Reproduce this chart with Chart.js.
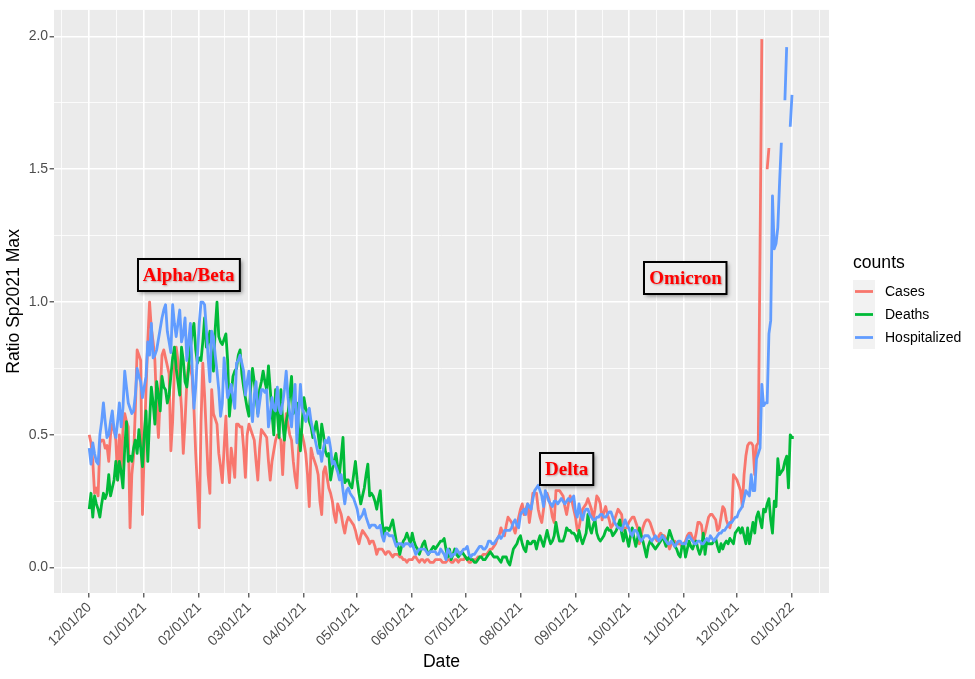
<!DOCTYPE html>
<html>
<head>
<meta charset="utf-8">
<script src="https://cdn.jsdelivr.net/npm/chart.js@4.4.1/dist/chart.umd.min.js"></script>
<style>
  html, body { margin: 0; padding: 0; background: #ffffff; }
  #wrap { width: 975px; height: 679px; }
</style>
</head>
<body>
<div id="wrap"><canvas id="chart" width="975" height="679"></canvas></div>
<script>
// Daily values, day 0 = 12/01/20 (one entry per day, null = no data)
const cases = [
  0.50, 0.47, 0.40, 0.28, 0.30, 0.27, 0.47, 0.48, 0.48, 0.45, // d0
  0.46, 0.40, 0.50, 0.54, 0.52, 0.48, 0.33, 0.50, 0.37, 0.52, // d10
  0.58, 0.55, 0.53, 0.15, 0.35, 0.42, 0.60, 0.82, 0.80, 0.78, // d20
  0.20, 0.45, 0.67, 0.85, 1.00, 0.90, 0.85, 0.78, 0.60, 0.49, // d30
  0.65, 0.80, 0.82, 0.79, 0.76, 0.73, 0.44, 0.55, 0.75, 0.83, // d40
  0.78, 0.70, 0.60, 0.43, 0.55, 0.70, 0.77, 0.75, 0.72, 0.60, // d50
  0.43, 0.30, 0.15, 0.55, 0.77, 0.65, 0.50, 0.35, 0.28, 0.67, // d60
  0.58, 0.56, 0.54, 0.43, 0.38, 0.32, 0.45, 0.57, 0.40, 0.32, // d70
  0.45, 0.40, 0.34, 0.54, 0.54, 0.53, 0.53, 0.45, 0.34, 0.50, // d80
  0.54, 0.52, 0.50, 0.48, 0.40, 0.33, 0.45, 0.52, 0.51, 0.50, // d90
  0.49, 0.40, 0.33, 0.40, 0.44, 0.48, 0.50, 0.49, 0.48, 0.35, // d100
  0.50, 0.58, 0.54, 0.50, 0.48, 0.40, 0.34, 0.30, 0.45, 0.52, // d110
  0.50, 0.47, 0.43, 0.35, 0.23, 0.45, 0.42, 0.40, 0.38, 0.35, // d120
  0.25, 0.20, 0.36, 0.38, 0.34, 0.30, 0.28, 0.25, 0.20, 0.17, // d130
  0.24, 0.22, 0.20, 0.16, 0.13, 0.17, 0.19, 0.18, 0.17, 0.16, // d140
  0.14, 0.11, 0.09, 0.12, 0.14, 0.13, 0.12, 0.11, 0.09, 0.10, // d150
  0.10, 0.08, 0.05, 0.07, 0.07, 0.07, 0.06, 0.05, 0.06, 0.06, // d160
  0.05, 0.04, 0.05, 0.05, 0.05, 0.04, 0.04, 0.03, 0.03, 0.02, // d170
  0.03, 0.03, 0.03, 0.04, 0.04, 0.03, 0.02, 0.03, 0.03, 0.02, // d180
  0.03, 0.03, 0.02, 0.02, 0.02, 0.03, 0.03, 0.03, 0.03, 0.02, // d190
  0.02, 0.02, 0.03, 0.03, 0.02, 0.02, 0.03, 0.03, 0.02, 0.03, // d200
  0.03, 0.03, 0.04, 0.03, 0.02, 0.02, 0.03, 0.03, 0.03, 0.04, // d210
  0.04, 0.04, 0.05, 0.05, 0.05, 0.06, 0.07, 0.07, 0.08, 0.09, // d220
  0.11, 0.12, 0.15, 0.13, 0.12, 0.16, 0.19, 0.18, 0.17, 0.15, // d230
  0.13, 0.16, 0.19, 0.22, 0.24, 0.20, 0.22, 0.24, 0.17, 0.22, // d240
  0.28, 0.28, 0.28, 0.22, 0.19, 0.17, 0.22, 0.27, 0.28, 0.26, // d250
  0.23, 0.19, 0.17, 0.29, 0.29, 0.29, 0.28, 0.27, 0.23, 0.20, // d260
  0.24, 0.27, 0.25, 0.22, 0.19, 0.14, 0.15, 0.19, 0.22, 0.23, // d270
  0.24, 0.26, 0.24, 0.22, 0.18, 0.22, 0.27, 0.26, 0.24, 0.18, // d280
  0.21, 0.23, 0.20, 0.18, 0.15, 0.16, 0.18, 0.20, 0.22, 0.21, // d290
  0.20, 0.14, 0.15, 0.15, 0.17, 0.18, 0.19, 0.19, 0.17, 0.15, // d300
  0.09, 0.12, 0.15, 0.17, 0.18, 0.18, 0.17, 0.15, 0.13, 0.11, // d310
  0.10, 0.12, 0.13, 0.12, 0.12, 0.11, 0.09, 0.07, 0.09, 0.10, // d320
  0.10, 0.09, 0.09, 0.09, 0.08, 0.09, 0.10, 0.12, 0.13, 0.13, // d330
  0.11, 0.10, 0.13, 0.17, 0.17, 0.16, 0.11, 0.13, 0.16, 0.19, // d340
  0.20, 0.20, 0.19, 0.18, 0.14, 0.15, 0.19, 0.23, 0.22, 0.18, // d350
  0.16, 0.15, 0.18, 0.35, 0.34, 0.33, 0.31, 0.29, 0.23, 0.35, // d360
  0.42, 0.46, 0.47, 0.47, 0.46, 0.35, 0.46, 0.47, 1.20, 1.99, // d370
  null, null, 1.50, 1.58, null, null, null, null, null, null, // d380
  null, null, null, null, null, null, null, null              // d390
];

const deaths = [
  0.22, 0.28, 0.19, 0.27, 0.24, 0.22, 0.19, 0.24, 0.28, 0.26, // d0
  0.28, 0.35, 0.27, 0.30, 0.33, 0.40, 0.33, 0.40, 0.36, 0.30, // d10
  0.45, 0.55, 0.40, 0.42, 0.40, 0.45, 0.48, 0.43, 0.52, 0.45, // d20
  0.38, 0.50, 0.59, 0.40, 0.55, 0.68, 0.62, 0.54, 0.70, 0.65, // d30
  0.59, 0.72, 0.68, 0.67, 0.62, 0.65, 0.72, 0.79, 0.83, 0.75, // d40
  0.70, 0.65, 0.83, 0.78, 0.70, 0.68, 0.75, 0.83, 0.88, 0.92, // d50
  0.82, 0.77, 0.79, 0.78, 0.85, 0.94, 0.83, 0.85, 0.89, 0.80, // d60
  0.74, 0.90, 1.00, 0.87, 0.85, 0.84, 0.86, 0.88, 0.78, 0.57, // d70
  0.65, 0.72, 0.74, 0.75, 0.80, 0.82, 0.73, 0.68, 0.64, 0.60, // d80
  0.57, 0.68, 0.75, 0.70, 0.64, 0.58, 0.67, 0.70, 0.74, 0.70, // d90
  0.67, 0.76, 0.67, 0.58, 0.50, 0.67, 0.58, 0.49, 0.67, 0.55, // d100
  0.48, 0.55, 0.58, 0.65, 0.72, 0.58, 0.60, 0.62, 0.52, 0.44, // d110
  0.55, 0.64, 0.60, 0.58, 0.55, 0.53, 0.49, 0.52, 0.55, 0.50, // d120
  0.45, 0.54, 0.50, 0.44, 0.42, 0.43, 0.33, 0.37, 0.40, 0.43, // d130
  0.38, 0.35, 0.42, 0.49, 0.32, 0.33, 0.33, 0.31, 0.30, 0.35, // d140
  0.40, 0.33, 0.28, 0.24, 0.27, 0.30, 0.35, 0.39, 0.27, 0.28, // d150
  0.27, 0.25, 0.22, 0.26, 0.29, 0.18, 0.12, 0.15, 0.15, 0.14, // d160
  0.16, 0.18, 0.14, 0.10, 0.08, 0.05, 0.08, 0.10, 0.11, 0.13, // d170
  0.11, 0.09, 0.13, 0.10, 0.08, 0.07, 0.05, 0.07, 0.09, 0.10, // d180
  0.07, 0.05, 0.06, 0.07, 0.08, 0.07, 0.08, 0.09, 0.10, 0.10, // d190
  0.11, 0.07, 0.04, 0.07, 0.03, 0.05, 0.07, 0.05, 0.04, 0.05, // d200
  0.06, 0.05, 0.04, 0.03, 0.04, 0.03, 0.03, 0.02, 0.02, 0.03, // d210
  0.04, 0.04, 0.03, 0.03, 0.04, 0.05, 0.06, 0.05, 0.04, 0.04, // d220
  0.04, 0.03, 0.02, 0.04, 0.04, 0.04, 0.02, 0.01, 0.04, 0.07, // d230
  0.08, 0.09, 0.11, 0.12, 0.09, 0.07, 0.06, 0.10, 0.09, 0.09, // d240
  0.10, 0.10, 0.07, 0.10, 0.12, 0.10, 0.08, 0.11, 0.14, 0.11, // d250
  0.09, 0.10, 0.12, 0.17, 0.13, 0.10, 0.10, 0.10, 0.12, 0.15, // d260
  0.14, 0.14, 0.13, 0.13, 0.12, 0.10, 0.14, 0.11, 0.09, 0.11, // d270
  0.13, 0.20, 0.15, 0.13, 0.16, 0.18, 0.13, 0.11, 0.10, 0.11, // d280
  0.12, 0.14, 0.15, 0.14, 0.14, 0.12, 0.13, 0.14, 0.16, 0.18, // d290
  0.13, 0.10, 0.14, 0.11, 0.08, 0.12, 0.15, 0.11, 0.08, 0.11, // d300
  0.15, 0.12, 0.10, 0.07, 0.04, 0.08, 0.10, 0.09, 0.08, 0.07, // d310
  0.08, 0.09, 0.10, 0.12, 0.10, 0.08, 0.11, 0.14, 0.12, 0.10, // d320
  0.08, 0.07, 0.05, 0.04, 0.08, 0.09, 0.04, 0.07, 0.10, 0.08, // d330
  0.07, 0.09, 0.10, 0.07, 0.05, 0.07, 0.13, 0.05, 0.10, 0.09, // d340
  0.09, 0.09, 0.10, 0.11, 0.08, 0.06, 0.09, 0.07, 0.09, 0.10, // d350
  0.09, 0.11, 0.10, 0.09, 0.13, 0.14, 0.15, 0.13, 0.15, 0.12, // d360
  0.09, 0.15, 0.09, 0.13, 0.17, 0.13, 0.19, 0.21, 0.18, 0.15, // d370
  0.22, 0.21, 0.24, 0.26, 0.18, 0.13, 0.25, 0.23, 0.41, 0.35, // d380
  0.36, 0.37, 0.40, 0.42, 0.30, 0.50, 0.49, 0.49              // d390
];

const hospitalized = [
  0.45, 0.39, 0.47, 0.43, 0.40, 0.39, 0.50, 0.55, 0.62, 0.55, // d0
  0.49, 0.50, 0.55, 0.59, 0.52, 0.49, 0.55, 0.62, 0.53, 0.60, // d10
  0.74, 0.68, 0.62, 0.60, 0.58, 0.59, 0.65, 0.75, 0.72, 0.70, // d20
  0.64, 0.68, 0.72, 0.85, 0.80, 0.92, 0.79, 0.80, 0.82, 0.86, // d30
  0.90, 0.94, 0.97, 0.99, 0.89, 0.85, 0.81, 0.99, 0.92, 0.87, // d40
  0.92, 0.97, 0.85, 0.88, 0.94, 0.78, 0.85, 0.92, 0.75, 0.60, // d50
  0.68, 0.80, 0.92, 1.00, 1.00, 0.99, 0.90, 0.79, 0.70, 0.89, // d60
  0.87, 0.80, 0.74, 0.67, 0.57, 0.62, 0.79, 0.72, 0.64, 0.66, // d70
  0.69, 0.64, 0.60, 0.77, 0.78, 0.80, 0.77, 0.74, 0.65, 0.70, // d80
  0.74, 0.62, 0.55, 0.65, 0.70, 0.57, 0.62, 0.67, 0.67, 0.66, // d90
  0.67, 0.53, 0.58, 0.64, 0.60, 0.59, 0.68, 0.60, 0.58, 0.62, // d100
  0.67, 0.74, 0.64, 0.58, 0.53, 0.62, 0.69, 0.47, 0.58, 0.69, // d110
  0.60, 0.58, 0.55, 0.58, 0.60, 0.55, 0.52, 0.49, 0.46, 0.43, // d120
  0.44, 0.40, 0.45, 0.48, 0.47, 0.49, 0.45, 0.39, 0.40, 0.38, // d130
  0.36, 0.33, 0.35, 0.29, 0.24, 0.29, 0.30, 0.28, 0.27, 0.26, // d140
  0.24, 0.22, 0.18, 0.19, 0.20, 0.22, 0.19, 0.17, 0.15, 0.16, // d150
  0.16, 0.16, 0.15, 0.15, 0.16, 0.12, 0.10, 0.13, 0.13, 0.12, // d160
  0.12, 0.12, 0.10, 0.08, 0.09, 0.09, 0.09, 0.08, 0.09, 0.09, // d170
  0.09, 0.08, 0.09, 0.07, 0.05, 0.06, 0.07, 0.07, 0.07, 0.07, // d180
  0.06, 0.05, 0.06, 0.06, 0.06, 0.06, 0.05, 0.05, 0.07, 0.06, // d190
  0.05, 0.03, 0.07, 0.06, 0.04, 0.05, 0.05, 0.07, 0.06, 0.05, // d200
  0.06, 0.07, 0.07, 0.08, 0.05, 0.04, 0.05, 0.05, 0.06, 0.07, // d210
  0.08, 0.08, 0.07, 0.07, 0.08, 0.10, 0.10, 0.09, 0.09, 0.10, // d220
  0.11, 0.12, 0.11, 0.12, 0.14, 0.14, 0.14, 0.14, 0.15, 0.17, // d230
  0.18, 0.16, 0.15, 0.20, 0.21, 0.22, 0.20, 0.24, 0.23, 0.22, // d240
  0.26, 0.29, 0.30, 0.31, 0.29, 0.27, 0.23, 0.29, 0.27, 0.25, // d250
  0.24, 0.23, 0.25, 0.25, 0.24, 0.25, 0.26, 0.25, 0.24, 0.25, // d260
  0.26, 0.25, 0.26, 0.27, 0.21, 0.19, 0.24, 0.20, 0.18, 0.21, // d270
  0.22, 0.22, 0.20, 0.19, 0.18, 0.18, 0.19, 0.19, 0.20, 0.20, // d280
  0.19, 0.19, 0.20, 0.21, 0.21, 0.19, 0.17, 0.16, 0.15, 0.15, // d290
  0.14, 0.16, 0.18, 0.16, 0.15, 0.13, 0.12, 0.14, 0.14, 0.13, // d300
  0.11, 0.10, 0.11, 0.12, 0.12, 0.12, 0.11, 0.10, 0.11, 0.12, // d310
  0.11, 0.10, 0.11, 0.12, 0.11, 0.10, 0.09, 0.09, 0.10, 0.09, // d320
  0.08, 0.09, 0.10, 0.10, 0.09, 0.09, 0.09, 0.11, 0.12, 0.11, // d330
  0.10, 0.09, 0.09, 0.10, 0.10, 0.09, 0.09, 0.10, 0.11, 0.10, // d340
  0.12, 0.11, 0.10, 0.11, 0.12, 0.13, 0.13, 0.14, 0.14, 0.15, // d350
  0.16, 0.17, 0.17, 0.18, 0.19, 0.19, 0.21, 0.22, 0.23, 0.26, // d360
  0.29, 0.28, 0.27, 0.35, 0.29, 0.29, 0.41, 0.43, 0.45, 0.69, // d370
  0.61, 0.62, 0.62, 0.88, 0.93, 1.40, 1.20, 1.22, 1.28, 1.45, // d380
  1.60, null, 1.76, 1.96, null, 1.66, 1.78, null              // d390
];

// x axis: days since 12/01/20 of each month tick
const monthDays = [0, 31, 62, 90, 121, 151, 182, 212, 243, 274, 304, 335, 365, 396];
const monthLabels = ['12/01/20', '01/01/21', '02/01/21', '03/01/21', '04/01/21', '05/01/21', '06/01/21',
                     '07/01/21', '08/01/21', '09/01/21', '10/01/21', '11/01/21', '12/01/21', '01/01/22'];
const yBreaks = [0, 0.5, 1, 1.5, 2];

// wave annotations
const waveNames = ['Alpha/Beta', 'Delta', 'Omicron'];
const waveDays = [56, 269, 336];
const waveLevels = [1.1, 0.37, 1.09];

const seriesNames = ['Cases', 'Deaths', 'Hospitalized'];
const seriesColors = ['#F8766D', '#00BA38', '#619CFF'];

const SANS = '"Liberation Sans", Arial, Helvetica, sans-serif';

// minor breaks halfway between major ones (ggplot style)
function minorBetween(major, lo, hi) {
  const step0 = major[1] - major[0];
  const out = [major[0] - step0 / 2];
  for (let i = 0; i < major.length - 1; i++) out.push((major[i] + major[i + 1]) / 2);
  const stepN = major[major.length - 1] - major[major.length - 2];
  out.push(major[major.length - 1] + stepN / 2);
  return out.filter(v => v > lo && v < hi);
}

const xMin = -19.85, xMax = 416.85;
const yMin = -0.0955, yMax = 2.1;
const xMinor = minorBetween(monthDays, xMin, xMax);
const yMinor = minorBetween(yBreaks, yMin, yMax);

function toPoints(values) {
  return values.map((v, i) => ({ x: i, y: v }));
}

const isMajorX = v => monthDays.includes(v);
const isMajorY = v => yBreaks.some(b => Math.abs(b - v) < 1e-9);

const panelBackground = {
  id: 'panelBackground',
  beforeDraw(chart) {
    const { ctx, chartArea: a } = chart;
    ctx.save();
    ctx.fillStyle = '#EBEBEB';
    ctx.fillRect(a.left, a.top, a.right - a.left, a.bottom - a.top);
    ctx.restore();
  }
};

const waveLabels = {
  id: 'waveLabels',
  afterDatasetsDraw(chart) {
    const { ctx, scales: { x, y } } = chart;
    ctx.save();
    ctx.font = 'bold 19px "Liberation Serif", "Times New Roman", serif';
    ctx.textAlign = 'center';
    ctx.textBaseline = 'middle';
    waveNames.forEach((name, i) => {
      const cx = x.getPixelForValue(waveDays[i]);
      const cy = y.getPixelForValue(waveLevels[i]);
      const w = ctx.measureText(name).width + 10;
      const h = 32;
      const left = Math.round(cx - w / 2), top = Math.round(cy - h / 2);
      ctx.save();
      ctx.shadowColor = 'rgba(0,0,0,0.45)';
      ctx.shadowBlur = 4;
      ctx.shadowOffsetX = 2;
      ctx.shadowOffsetY = 2;
      ctx.fillStyle = '#EDEDED';
      ctx.fillRect(left, top, w, h);
      ctx.restore();
      ctx.lineWidth = 2;
      ctx.strokeStyle = '#000000';
      ctx.strokeRect(left, top, w, h);
      ctx.save();
      ctx.shadowColor = 'rgba(90,0,0,0.35)';
      ctx.shadowBlur = 2;
      ctx.shadowOffsetX = 1;
      ctx.shadowOffsetY = 1;
      ctx.fillStyle = '#FF0000';
      ctx.fillText(name, cx, cy + 1);
      ctx.restore();
    });
    ctx.restore();
  }
};

const sideLegend = {
  id: 'sideLegend',
  afterDraw(chart) {
    const ctx = chart.ctx;
    ctx.save();
    ctx.fillStyle = '#000000';
    ctx.textAlign = 'left';
    ctx.textBaseline = 'middle';
    ctx.font = '17.6px ' + SANS;
    ctx.fillText('counts', 853, 263);
    seriesNames.forEach((name, i) => {
      const top = 280 + i * 23;
      ctx.fillStyle = '#F2F2F2';
      ctx.fillRect(853, top, 22, 23);
      ctx.strokeStyle = seriesColors[i];
      ctx.lineWidth = 2.8;
      ctx.beginPath();
      ctx.moveTo(855, top + 11.5);
      ctx.lineTo(873, top + 11.5);
      ctx.stroke();
      ctx.fillStyle = '#000000';
      ctx.font = '14px ' + SANS;
      ctx.fillText(name, 885, top + 12);
    });
    ctx.restore();
  }
};

const datasets = [cases, deaths, hospitalized].map((vals, i) => ({
  label: seriesNames[i],
  data: toPoints(vals),
  borderColor: seriesColors[i],
  backgroundColor: seriesColors[i],
  borderWidth: 2.8,
  pointRadius: 0,
  tension: 0,
  spanGaps: false,
  borderJoinStyle: 'round',
  order: 3 - i
}));

new Chart(document.getElementById('chart'), {
  type: 'line',
  data: { datasets },
  options: {
    responsive: false,
    animation: false,
    devicePixelRatio: 1,
    parsing: false,
    normalized: true,
    layout: { padding: { top: 7, right: 146, left: 0, bottom: 0 } },
    plugins: {
      legend: { display: false },
      tooltip: { enabled: false }
    },
    scales: {
      x: {
        type: 'linear',
        min: xMin,
        max: xMax,
        afterBuildTicks: axis => {
          axis.ticks = [...monthDays, ...xMinor].sort((a, b) => a - b).map(v => ({ value: v }));
        },
        afterFit: axis => { axis.height = 86; },
        border: { display: false },
        grid: {
          color: '#FFFFFF',
          lineWidth: c => (c.tick && isMajorX(c.tick.value)) ? 1.6 : 0.8,
          tickColor: c => (c.tick && isMajorX(c.tick.value)) ? '#333333' : 'rgba(0,0,0,0)',
          tickLength: 4.4,
          tickWidth: 1.1
        },
        ticks: {
          autoSkip: false,
          minRotation: 45,
          maxRotation: 45,
          padding: 2,
          color: '#4D4D4D',
          font: { family: SANS, size: 14 },
          callback: v => {
            const k = monthDays.indexOf(v);
            return k >= 0 ? monthLabels[k] : '';
          }
        },
        title: {
          display: true,
          text: 'Date',
          color: '#000000',
          font: { family: SANS, size: 17.6 },
          padding: { top: 0, bottom: 6.4 }
        }
      },
      y: {
        type: 'linear',
        min: yMin,
        max: yMax,
        afterBuildTicks: axis => {
          axis.ticks = [...yBreaks, ...yMinor].sort((a, b) => a - b).map(v => ({ value: v }));
        },
        afterFit: axis => { axis.width = 54; },
        border: { display: false },
        grid: {
          color: '#FFFFFF',
          lineWidth: c => (c.tick && isMajorY(c.tick.value)) ? 1.6 : 0.8,
          tickColor: c => (c.tick && isMajorY(c.tick.value)) ? '#333333' : 'rgba(0,0,0,0)',
          tickLength: 4.4,
          tickWidth: 1.1
        },
        ticks: {
          padding: 1.5,
          color: '#4D4D4D',
          font: { family: SANS, size: 14 },
          callback: v => isMajorY(v) ? v.toFixed(1) : ''
        },
        title: {
          display: true,
          text: 'Ratio Sp2021 Max',
          color: '#000000',
          font: { family: SANS, size: 17.6 },
          padding: { top: 3.5, bottom: 0 }
        }
      }
    }
  },
  plugins: [panelBackground, waveLabels, sideLegend]
});
</script>
</body>
</html>
